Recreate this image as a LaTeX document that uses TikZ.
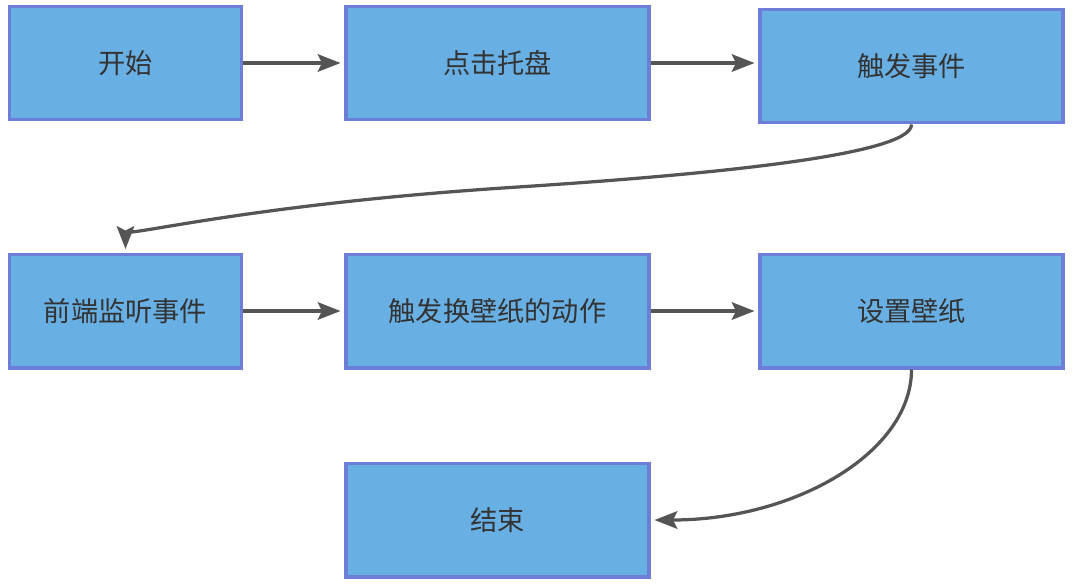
\documentclass[tikz,border=0pt]{standalone}
\usepackage{fontspec}
\newfontfamily\cjk{Noto Sans CJK SC}
\usetikzlibrary{arrows.meta}

\definecolor{boxfill}{HTML}{68AFE3}
\definecolor{boxline}{HTML}{6E7ED8}
\definecolor{lineclr}{HTML}{555555}
\definecolor{txtclr}{HTML}{333333}

\tikzset{
    box/.style={draw=boxline, fill=boxfill, line width=0.07cm,
        minimum width=4.65cm, minimum height=2.27cm,
        font=\cjk\fontsize{15.5pt}{18pt}\selectfont, text=txtclr},
    wide/.style={box, minimum width=6.07cm},
    flow/.style={draw=lineclr, line width=0.065cm, shorten >=2pt,
        -{Stealth[length=13pt, width=10pt, inset=2.5pt]}}
}

\begin{document}
\begin{tikzpicture}[x=0.02cm, y=-0.02cm]

    % 画布大小(按像素)
    \useasboundingbox (0,0) rectangle (1078,583);

    % 第一行
    \node[box]  (start)   at (125.5, 63)  {开始};
    \node[wide] (tray)    at (497.5, 63)  {点击托盘};
    \node[wide] (trigger) at (911.5, 66)  {触发事件};

    % 第二行
    \node[box]  (listen)  at (125.5, 311) {前端监听事件};
    \node[wide] (action)  at (497.5, 311) {触发换壁纸的动作};
    \node[wide] (setwp)   at (911.5, 311) {设置壁纸};

    % 第三行
    \node[wide] (finish)  at (497.5, 520) {结束};

    % 弯线经过的点
    \coordinate (bend) at (518, 187);

    % 直线箭头
    \draw[flow] (start.east) -- (tray.west);
    \draw[flow] (tray.east) -- (tray.east -| trigger.west);
    \draw[flow] (listen.east) -- (action.west);
    \draw[flow] (action.east) -- (setwp.west);

    % 弯曲箭头
    \draw[flow] (trigger.south) .. controls +(0,30) and +(200,-13) .. (bend)
        .. controls +(-268,17) and +(0,-15) .. (listen.north);
    \draw[flow] (setwp.south) .. controls +(0,83) and +(144,0) .. (finish.east);

\end{tikzpicture}
\end{document}
